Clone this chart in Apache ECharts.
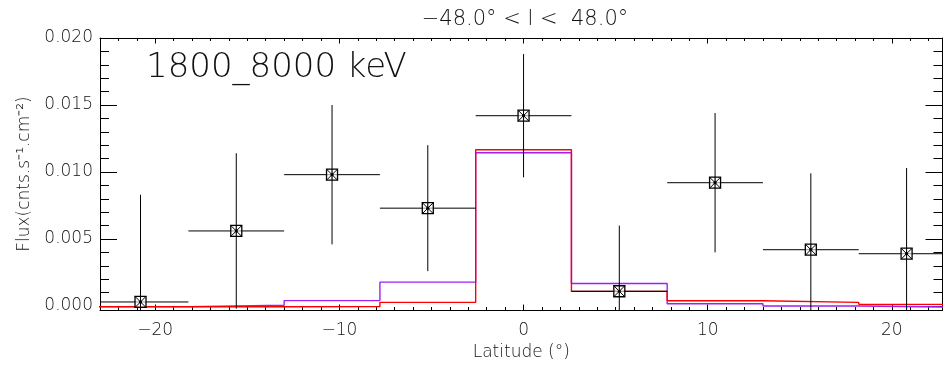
<!DOCTYPE html>
<html>
<head>
<meta charset="utf-8">
<script src="https://cdn.jsdelivr.net/npm/echarts@6/dist/echarts.min.js"></script>
<style>
html,body{margin:0;padding:0;background:#fff;}
#chart{width:943px;height:366px;}
</style>
</head>
<body>
<div id="chart"></div>
<script>
// ---- data ----
const binCenters = [-20.8, -15.6, -10.4, -5.2, 0, 5.2, 10.4, 15.6, 20.8];
const binWidth = 5.2;
const fluxValues = [0.0003, 0.0056, 0.0098, 0.0073, 0.0142, 0.0011, 0.0092, 0.0042, 0.0039];
const fluxErrors = [0.0080, 0.0058, 0.0052, 0.0047, 0.0046, 0.0049, 0.0052, 0.0057, 0.0064];
const modelRed    = [-0.00006, -0.00006, -0.00005, 0.00027, 0.01166, 0.00109, 0.00039, 0.00027, 0.00012];
const modelPurple = [-0.00005, 0.00005, 0.00040, 0.00178, 0.01144, 0.00168, 0.00017, 0.00000, -0.00009];
const xMajorTicks = [-20, -10, 0, 10, 20];
const xMinorTicks = [-23,-22,-21,-20,-19,-18,-17,-16,-15,-14,-13,-12,-11,-10,-9,-8,-7,-6,-5,-4,-3,-2,-1,0,1,2,3,4,5,6,7,8,9,10,11,12,13,14,15,16,17,18,19,20,21,22];
const yMajorTicks = [0.000, 0.005, 0.010, 0.015, 0.020];
const yMinorTicks = [0.000,0.001,0.002,0.003,0.004,0.005,0.006,0.007,0.008,0.009,0.010,0.011,0.012,0.013,0.014,0.015,0.016,0.017,0.018,0.019,0.020];
const xRange = [-23, 22.75];
const yRange = [-0.0003, 0.0200];
const titleText = '\u221248.0\u00b0 < l <  48.0\u00b0';
const bandText = '1800_8000 keV';
const xName = 'Latitude (\u00b0)';
const yName = 'Flux(cnts.s\u207b\u00b9.cm\u207b\u00b2)';

// ---- build series data ----
function stepData(vals) {
  const d = binCenters.map((c, i) => [c - binWidth / 2, vals[i]]);
  const n = binCenters.length - 1;
  d.push([binCenters[n] + binWidth / 2, vals[n]]);
  return d;
}
const pointData = binCenters.map((c, i) => [c, fluxValues[i], fluxErrors[i]]);

const FONT = 'DejaVu Sans';
const FW = 300;
const TXT = '#111';
const minus = v => String(v).replace('-', '\u2212');

function baseX(pos, ticks, len, showLine, labels) {
  return {
    type: 'value', position: pos, min: xRange[0], max: xRange[1],
    axisLine: {show: showLine, onZero: false, lineStyle: {color: '#000', width: 1}},
    axisTick: {show: true, inside: true, length: len, customValues: ticks, lineStyle: {color: '#000', width: 1}},
    axisLabel: labels ? {show: true, customValues: ticks, formatter: minus, fontFamily: FONT, fontWeight: FW, fontSize: 17, color: TXT, margin: 12} : {show: false},
    splitLine: {show: false}
  };
}
function baseY(pos, ticks, len, showLine, labels) {
  return {
    type: 'value', position: pos, min: yRange[0], max: yRange[1],
    axisLine: {show: showLine, onZero: false, lineStyle: {color: '#000', width: 1}},
    axisTick: {show: true, inside: true, length: len, customValues: ticks, lineStyle: {color: '#000', width: 1}},
    axisLabel: labels ? {show: true, customValues: ticks, formatter: v => v.toFixed(3), fontFamily: FONT, fontWeight: FW, fontSize: 17, color: TXT, margin: 7} : {show: false},
    splitLine: {show: false}
  };
}

const xAxes = [
  baseX('bottom', xMinorTicks, 3, true, false),
  Object.assign(baseX('bottom', xMajorTicks, 5.5, false, true), {
    name: xName, nameLocation: 'middle', nameGap: 34,
    nameTextStyle: {fontFamily: FONT, fontWeight: FW, fontSize: 17, color: TXT}
  }),
  baseX('top', xMinorTicks, 3, true, false),
  baseX('top', xMajorTicks, 5.5, false, false)
];
const yAxes = [
  baseY('left', yMinorTicks, 9, true, false),
  Object.assign(baseY('left', yMajorTicks, 17, false, true), {
    name: yName, nameLocation: 'middle', nameGap: 66,
    nameTextStyle: {fontFamily: FONT, fontWeight: FW, fontSize: 17, color: TXT}
  }),
  baseY('right', yMinorTicks, 9, true, false),
  baseY('right', yMajorTicks, 17, false, false)
];

const chart = echarts.init(document.getElementById('chart'), null, {renderer: 'canvas'});
chart.setOption({
  animation: false,
  backgroundColor: '#fff',
  grid: {left: 100, right: 0.5, top: 38, bottom: 54, containLabel: false},
  xAxis: xAxes,
  yAxis: yAxes,
  graphic: [
    {type: 'text', x: 525, y: 20, style: {text: titleText, x: 0, y: 0, align: 'center', verticalAlign: 'middle', font: '300 21px "DejaVu Sans"', fill: TXT}},
    {type: 'text', x: 146, y: 68, style: {text: bandText, align: 'left', verticalAlign: 'middle', font: '300 34px "DejaVu Sans"', fill: TXT}}
  ],
  series: [
    {
      type: 'line', name: 'purple', data: stepData(modelPurple), step: 'end',
      xAxisIndex: 0, yAxisIndex: 0, symbol: 'none', clip: true,
      lineStyle: {color: 'rgb(160,32,240)', width: 1.4}, z: 2
    },
    {
      type: 'line', name: 'red', data: stepData(modelRed), step: 'end',
      xAxisIndex: 0, yAxisIndex: 0, symbol: 'none', clip: true,
      lineStyle: {color: 'rgb(255,0,0)', width: 1.4}, z: 3
    },
    {
      type: 'custom', name: 'data', data: pointData, xAxisIndex: 0, yAxisIndex: 0, clip: true, z: 4,
      renderItem: function (params, api) {
        const x = api.value(0), y = api.value(1), e = api.value(2);
        const c = api.coord([x, y]);
        const l = api.coord([x - binWidth / 2, y]);
        const r = api.coord([x + binWidth / 2, y]);
        const t = api.coord([x, y + e]);
        const b = api.coord([x, y - e]);
        const h = 5.5;
        const st = {stroke: '#000', lineWidth: 1, fill: null};
        return {
          type: 'group',
          children: [
            {type: 'line', shape: {x1: l[0], y1: l[1], x2: r[0], y2: r[1]}, style: st},
            {type: 'line', shape: {x1: t[0], y1: t[1], x2: b[0], y2: b[1]}, style: st},
            {type: 'rect', shape: {x: c[0] - h, y: c[1] - h, width: 2 * h, height: 2 * h}, style: {stroke: '#000', lineWidth: 1.3, fill: 'rgba(255,255,255,0.6)'}},
            {type: 'line', shape: {x1: c[0] - h, y1: c[1] - h, x2: c[0] + h, y2: c[1] + h}, style: st},
            {type: 'line', shape: {x1: c[0] + h, y1: c[1] - h, x2: c[0] - h, y2: c[1] + h}, style: st},
            {type: 'line', shape: {x1: c[0], y1: c[1] - h, x2: c[0], y2: c[1] + h}, style: st},
            {type: 'circle', shape: {cx: c[0], cy: c[1], r: 1.6}, style: {fill: '#000'}}
          ]
        };
      }
    }
  ]
});
</script>
</body>
</html>
